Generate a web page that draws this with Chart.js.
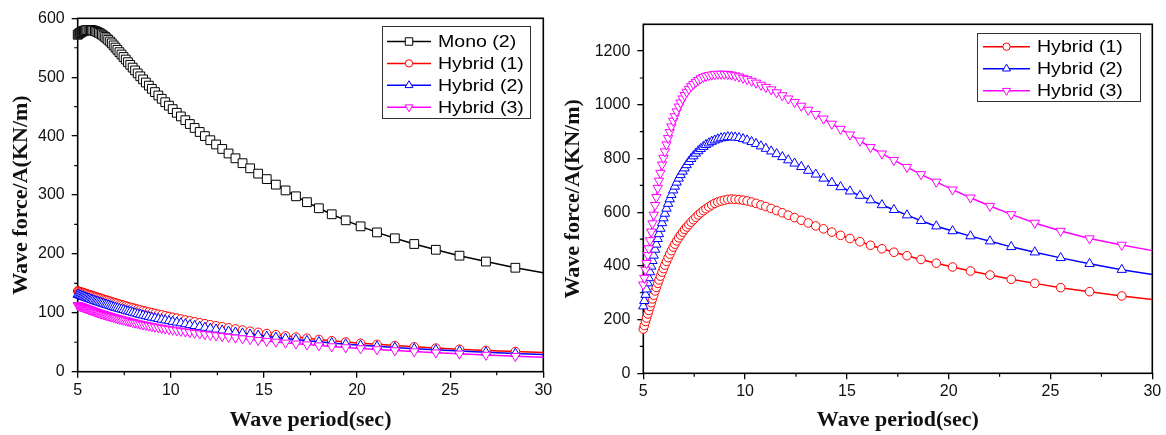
<!DOCTYPE html>
<html><head><meta charset="utf-8">
<script src="https://cdn.jsdelivr.net/npm/chart.js@4.4.1/dist/chart.umd.min.js"></script>
<style>
html,body{margin:0;padding:0;background:#fff;}
#wrap{position:relative;width:1166px;height:435px;overflow:hidden;}
#c1{position:absolute;left:0;top:0;}
#c2{position:absolute;left:560px;top:0;}
</style></head><body>
<div id="wrap"><canvas id="c1" width="560" height="435"></canvas><canvas id="c2" width="606" height="435"></canvas></div>
<script>
// Wave periods (sec) of the computed points
const periods = [5.00,5.05,5.11,5.16,5.22,5.27,5.33,5.39,5.45,5.51,
5.58,5.64,5.71,5.77,5.84,5.92,5.99,6.06,6.14,6.22,
6.30,6.38,6.47,6.55,6.64,6.74,6.83,6.93,7.03,7.13,
7.24,7.35,7.46,7.58,7.70,7.82,7.95,8.08,8.22,8.36,
8.51,8.66,8.82,8.98,9.15,9.33,9.51,9.70,9.90,10.10,
10.32,10.54,10.78,11.02,11.28,11.55,11.83,12.12,12.43,12.76,
13.10,13.47,13.85,14.26,14.69,15.15,15.64,16.16,16.72,17.31,
17.95,18.64,19.39,20.19,21.07,22.03,23.07,24.23,25.50,26.92,
28.50,30.00];

// Left panel
const monoLeft = [572,573.5,575,576,577,578,578.7,579.3,579.7,580,
580.2,580.2,580,579.7,579.2,578.5,577.6,576.6,575.3,574,
572.3,570.5,568.3,566,563.5,560.5,557.5,554,550.3,546.5,
542.5,538.5,534.3,530,525.5,521,516.3,511.5,506.5,501.5,
496.3,491,485.7,480.3,474.7,469,463.3,457.5,451.7,445.8,
439.6,433.4,427,420.5,413.8,407,400,393,385.8,378.2,
370.5,362.3,354,345.3,336.3,327,317.6,307.8,297.8,287.8,
277.5,267.3,257,246.8,236.5,226.5,216.8,207,197,187,
176.5,168];
const hyb1Left = [137,136.5,135.9,135.4,134.8,134.3,133.7,133.1,132.5,131.9,
131.2,130.6,129.9,129.3,128.6,127.8,127.1,126.4,125.6,124.8,
124,123.2,122.3,121.5,120.6,119.6,118.7,117.7,116.7,115.8,
114.7,113.7,112.7,111.6,110.5,109.4,108.4,107.3,106.1,104.9,
103.7,102.5,101.3,100.1,98.9,97.6,96.4,95.1,93.7,92.3,
90.9,89.4,87.8,86.3,84.7,83.1,81.4,79.7,78,76.3,
74.5,72.6,70.7,68.7,66.8,64.8,62.8,60.8,58.8,56.8,
54.7,52.6,50.5,48.4,46.4,44.3,42.2,40.1,38.1,36.1,
34.2,32.6];
const hyb2Left = [131,130.4,129.7,129.1,128.4,127.8,127.1,126.5,125.8,125.1,
124.3,123.6,122.8,122.1,121.3,120.4,119.6,118.8,118,117.2,
116.4,115.5,114.6,113.7,112.8,111.8,110.8,109.8,108.8,107.9,
106.9,105.9,104.9,103.8,102.7,101.7,100.5,99.3,98.1,96.9,
95.7,94.5,93.3,92.1,91,89.8,88.6,87.4,86.2,85,
83.7,82.4,81,79.4,77.9,76.4,74.9,73.4,71.8,70.2,
68.6,66.9,65.2,63.4,61.7,59.9,58.2,56.4,54.5,52.6,
50.7,48.8,46.8,44.8,43,41,39.1,37.1,35.1,33.1,
31,29];
const hyb3Left = [113,112.4,111.7,111.1,110.5,109.9,109.2,108.5,107.8,107.1,
106.3,105.6,104.8,104.1,103.3,102.4,101.6,100.8,100,99.2,
98.4,97.6,96.7,95.9,95,94.1,93.2,92.3,91.4,90.6,
89.7,88.8,87.9,86.9,86,85.1,84,83,82,81,
80,79,78,77,76,75,74,73,72,71,
70,69,67.9,66.8,65.7,64.6,63.5,62.4,61.3,60.1,
58.9,57.6,56.3,54.9,53.5,52,50.6,49.1,47.5,46,
44.4,42.8,41.1,39.5,37.8,36,34.2,32.3,30.4,28.4,
26.3,24.4];

// Right panel
const hyb1Right = [165,178,193,206,221,234,249,263,277,291,
307,320,335,348,362,377,390,403,417,431,
444,457,470,481,493,505,515,526,536,545,
554,563,572,581,590,598,606,613,620,627,
633,638,642,645,648,649,648,647,645,642,
638,633,627,621,614,606,598,589,580,570,
560,549,538,526,514,502,490,477,464,451,
438,424,410,396,381,366,350,335,319,304,
288,275];
const hyb2Right = [250,270,293,313,336,355,377,398,419,439,
461,480,501,519,539,560,578,595,614,632,
649,665,682,696,711,726,739,752,764,776,
788,799,809,819,828,836,844,851,857,863,
868,872,876,878,880,880,879,877,873,868,
862,855,846,837,827,817,806,794,782,769,
755,741,726,710,694,678,662,645,627,609,
589,568,548,530,511,492,471,451,430,408,
386,368];
const hyb3Right = [330,355,385,410,440,465,495,527,558,590,
626,656,690,717,746,777,802,826,852,876,
898,919,940,957,975,993,1008,1023,1036,1048,
1059,1069,1077,1085,1092,1098,1103,1107,1110,1112,
1114,1115,1115,1115,1114,1112,1109,1105,1100,1095,
1089,1082,1074,1066,1057,1046,1035,1023,1010,996,
981,965,948,929,910,889,866,842,818,794,
768,741,713,684,654,623,592,560,530,502,
478,457];

const xMinorTicks = [7.5,12.5,17.5,22.5,27.5];
const yMinorLeft = [50,150,250,350,450,550];
const yMinorRight = [100,300,500,700,900,1100];

const TICK_FONT = {family:'"Liberation Sans", Arial, sans-serif', size:16};
const TITLE_FONT = {family:'"Liberation Serif", "Times New Roman", serif', size:22, weight:'bold'};

function pts(arr){ return periods.map((p,i)=>({x:p, y:arr[i]})); }
const LAST = periods.length - 1;

function series(label, arr, color, style, radius, rot, order){
  return {
    label, data: pts(arr), borderColor: color, backgroundColor: '#fff',
    borderWidth: 1.5, pointStyle: style, pointRotation: rot,
    pointRadius: c => c.dataIndex === LAST ? 0 : radius,
    pointBorderWidth: 1, pointBorderColor: color, pointBackgroundColor: '#fff',
    legendRadius: radius * 0.85, tension: 0, clip: false, order
  };
}

function markerPath(ctx, style, r, rot, x, y){
  ctx.beginPath();
  if (style === 'rect') {
    const s = Math.SQRT1_2 * r;
    ctx.rect(x - s, y - s, 2*s, 2*s);
  } else if (style === 'circle') {
    ctx.arc(x, y, r, 0, Math.PI*2);
  } else {
    let a = (rot||0) * Math.PI/180;
    ctx.moveTo(x + Math.sin(a)*r, y - Math.cos(a)*r);
    a += 2*Math.PI/3; ctx.lineTo(x + Math.sin(a)*r, y - Math.cos(a)*r);
    a += 2*Math.PI/3; ctx.lineTo(x + Math.sin(a)*r, y - Math.cos(a)*r);
    ctx.closePath();
  }
}

const frameTicks = {
  id: 'frameTicks',
  beforeDatasetsDraw(chart, args, o){
    const {ctx, chartArea:{left,right,top,bottom}, scales:{x,y}} = chart;
    ctx.save();
    ctx.strokeStyle = '#000';
    ctx.lineWidth = 1.6;
    ctx.strokeRect(left, top, right-left, bottom-top);
    ctx.lineWidth = 1.2;
    ctx.beginPath();
    o.xMinor.forEach(v => { const px = x.getPixelForValue(v); ctx.moveTo(px, bottom); ctx.lineTo(px, bottom + 3.5); });
    o.yMinor.forEach(v => { const py = y.getPixelForValue(v); ctx.moveTo(left, py); ctx.lineTo(left - 3.5, py); });
    ctx.stroke();
    ctx.restore();
  }
};

const boxLegend = {
  id: 'boxLegend',
  afterDatasetsDraw(chart, args, o){
    const ctx = chart.ctx;
    ctx.save();
    ctx.fillStyle = '#fff';
    ctx.fillRect(o.x, o.y, o.w, o.h);
    ctx.strokeStyle = '#333';
    ctx.lineWidth = 1;
    ctx.strokeRect(o.x + 0.5, o.y + 0.5, o.w, o.h);
    chart.data.datasets.forEach((ds, i) => {
      const cy = o.firstY + i * o.gap;
      ctx.strokeStyle = ds.borderColor;
      ctx.lineWidth = 1.5;
      ctx.beginPath(); ctx.moveTo(o.lineX0, cy); ctx.lineTo(o.lineX1, cy); ctx.stroke();
      ctx.lineWidth = 1;
      ctx.fillStyle = '#fff';
      markerPath(ctx, ds.pointStyle, ds.legendRadius, ds.pointRotation, (o.lineX0 + o.lineX1)/2, cy);
      ctx.fill(); ctx.stroke();
      ctx.fillStyle = '#000';
      ctx.font = o.fontSize + 'px "Liberation Sans", Arial, sans-serif';
      ctx.textBaseline = 'middle';
      ctx.textAlign = 'left';
      ctx.save();
      ctx.translate(o.textX, cy + 1);
      ctx.scale(o.stretch, 1);
      ctx.fillText(ds.label, 0, 0);
      ctx.restore();
    });
    ctx.restore();
  }
};

function makeOptions(cfg){
  return {
    responsive: false, animation: false, devicePixelRatio: 1,
    layout: {padding: cfg.padding},
    plugins: {
      legend: {display: false}, tooltip: {enabled: false},
      frameTicks: {xMinor: xMinorTicks, yMinor: cfg.yMinor},
      boxLegend: cfg.legend
    },
    scales: {
      x: {
        type: 'linear', min: 5, max: 30,
        afterFit: s => { s.height = cfg.xHeight; },
        border: {display: false},
        grid: {display: true, drawOnChartArea: false, drawTicks: true, tickLength: 6, color: '#000', lineWidth: 1.3},
        ticks: {stepSize: 5, font: TICK_FONT, color: '#111', padding: 3, maxRotation: 0, callback: v => String(v)},
        title: {display: true, text: 'Wave period(sec)', font: TITLE_FONT, color: '#111', padding: {top: 0, bottom: 1}}
      },
      y: {
        min: 0, max: cfg.yMax,
        afterFit: s => { s.width = cfg.yWidth; },
        afterBuildTicks: s => { s.ticks = s.ticks.filter(t => t.value % cfg.yStep === 0); },
        border: {display: false},
        grid: {display: true, drawOnChartArea: false, drawTicks: true, tickLength: 6, color: '#000', lineWidth: 1.3},
        ticks: {stepSize: cfg.yStep, font: TICK_FONT, color: '#111', padding: 7, callback: v => String(v)},
        title: {display: true, text: 'Wave force/A(KN/m)', font: TITLE_FONT, color: '#111', padding: {top: cfg.yTitlePad, bottom: 0}}
      }
    }
  };
}

new Chart(document.getElementById('c1'), {
  type: 'line',
  data: {datasets: [
    series('Mono (2)', monoLeft, '#000000', 'rect', 6.2, 0, 0),
    series('Hybrid (1)', hyb1Left, '#ff0000', 'circle', 4.3, 0, -1),
    series('Hybrid (2)', hyb2Left, '#0000ff', 'triangle', 5.4, 0, -2),
    series('Hybrid (3)', hyb3Left, '#ff00ff', 'triangle', 5.4, 180, -3)
  ]},
  options: makeOptions({
    padding: {left: 0, top: 18.3, right: 16.7, bottom: 0},
    xHeight: 63.3, yWidth: 77.7, yMax: 600, yStep: 100, yMinor: yMinorLeft, yTitlePad: 8,
    legend: {x: 382, y: 26, w: 148, h: 92, firstY: 41.5, gap: 21.9, lineX0: 387, lineX1: 431, textX: 438, fontSize: 17, stretch: 1.15}
  }),
  plugins: [frameTicks, boxLegend]
});

new Chart(document.getElementById('c2'), {
  type: 'line',
  data: {datasets: [
    series('Hybrid (1)', hyb1Right, '#ff0000', 'circle', 4.3, 0, 0),
    series('Hybrid (2)', hyb2Right, '#0000ff', 'triangle', 5.4, 0, -1),
    series('Hybrid (3)', hyb3Right, '#ff00ff', 'triangle', 5.4, 180, -2)
  ]},
  options: makeOptions({
    padding: {left: 0, top: 24.3, right: 13.7, bottom: 0},
    xHeight: 61.7, yWidth: 83.3, yMax: 1300, yStep: 200, yMinor: yMinorRight, yTitlePad: 0,
    legend: {x: 417, y: 33, w: 163, h: 68, firstY: 46.7, gap: 22, lineX0: 423, lineX1: 470, textX: 477, fontSize: 17, stretch: 1.15}
  }),
  plugins: [frameTicks, boxLegend]
});
</script>
</body></html>
